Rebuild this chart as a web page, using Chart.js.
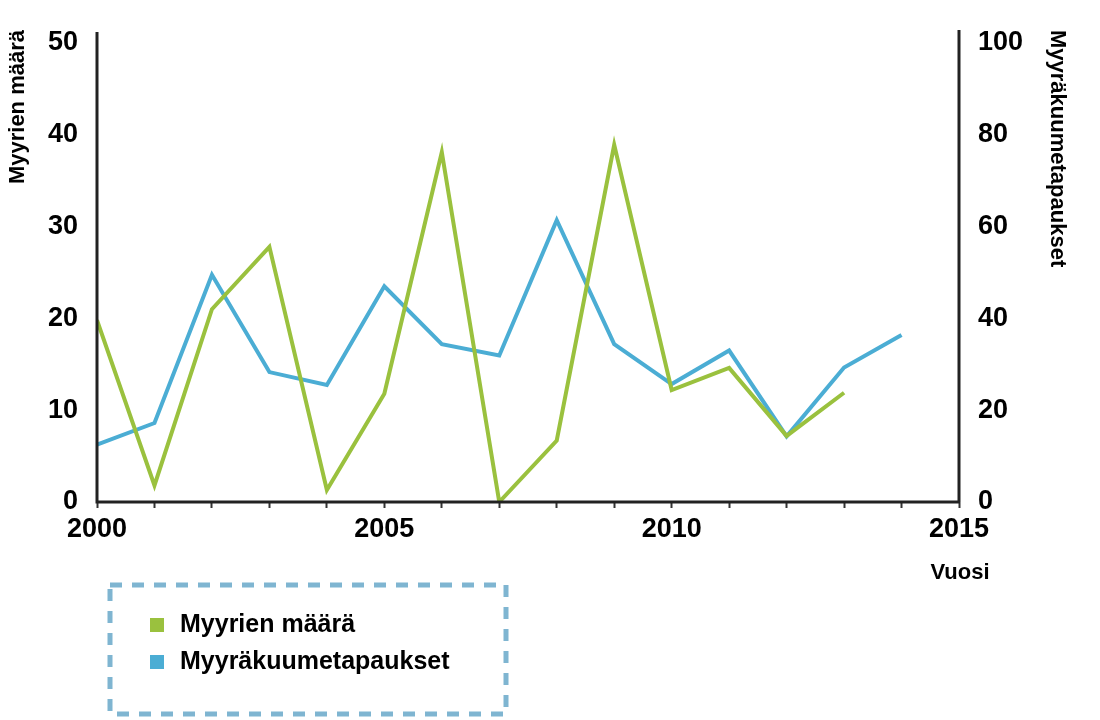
<!DOCTYPE html>
<html lang="fi">
<head>
    <meta charset="UTF-8">
    <title>Myyrät ja myyräkuume</title>
    <style>
        body { margin: 0; padding: 0; background: #fff; }
        canvas { display: block; }
    </style>
</head>
<body>
    <canvas id="myyraChart" width="1100" height="720"></canvas>

    <script src="https://cdn.jsdelivr.net/npm/chart.js@4"></script>
    <script>
        // data
        const vuodet = [2000, 2001, 2002, 2003, 2004, 2005, 2006, 2007, 2008, 2009, 2010, 2011, 2012, 2013, 2014];
        const myyrienMaara = [19.8, 1.8, 21.0, 27.8, 1.3, 11.8, 38.1, 0, 6.7, 38.9, 12.2, 14.6, 7.2, 11.9];
        const myyrakuumeTapaukset = [12.5, 17.2, 49.5, 28.3, 25.5, 47.0, 34.4, 31.9, 61.4, 34.4, 25.7, 33.0, 14.3, 29.3, 36.4];
        const xTickLabels = [2000, 2005, 2010, 2015];
        const vasenTicks = [0, 10, 20, 30, 40, 50];
        const oikeaTicks = [0, 20, 40, 60, 80, 100];

        const vihrea = '#9ac13e';
        const sininen = '#4badd4';
        const fontti = 'Arial, "Liberation Sans", sans-serif';

        const pisteet = (arvot) => arvot.map((v, i) => ({ x: vuodet[i], y: v }));

        // axis lines, axis titles and the dashed legend box
        const koristeet = {
            id: 'koristeet',
            afterDraw(chart) {
                const c = chart.ctx;
                const a = chart.chartArea;
                c.save();
                c.strokeStyle = '#222';
                c.lineWidth = 3;
                c.beginPath();
                c.moveTo(a.left, a.top - 11);
                c.lineTo(a.left, a.bottom);
                c.lineTo(a.right + 1, a.bottom);
                c.moveTo(a.right, a.top - 13);
                c.lineTo(a.right, a.bottom);
                c.stroke();

                c.fillStyle = '#000';
                c.font = 'bold 22px ' + fontti;
                c.textBaseline = 'middle';

                c.save();
                c.translate(18, 30);
                c.rotate(-Math.PI / 2);
                c.textAlign = 'right';
                c.fillText('Myyrien määrä', 0, 0);
                c.restore();

                c.save();
                c.translate(1057, 30);
                c.rotate(Math.PI / 2);
                c.textAlign = 'left';
                c.fillText('Myyräkuumetapaukset', 0, 0);
                c.restore();

                c.textAlign = 'center';
                c.fillText('Vuosi', 960, 573);

                // legend box
                c.strokeStyle = '#7fb5d1';
                c.lineWidth = 5;
                c.setLineDash([12, 10]);
                c.strokeRect(110, 585, 396, 129);
                c.setLineDash([]);

                c.font = 'bold 25px ' + fontti;
                c.textAlign = 'left';
                chart.data.datasets.forEach((ds, i) => {
                    const y = 625 + i * 37;
                    c.fillStyle = ds.borderColor;
                    c.fillRect(150, y - 7, 14, 14);
                    c.fillStyle = '#000';
                    c.fillText(ds.label, 180, y);
                });
                c.restore();
            }
        };

        const ctx = document.getElementById('myyraChart').getContext('2d');
        const myyraChart = new Chart(ctx, {
            type: 'line',
            data: {
                datasets: [
                    {
                        label: 'Myyrien määrä',
                        data: pisteet(myyrienMaara),
                        borderColor: vihrea,
                        backgroundColor: vihrea,
                        borderWidth: 4,
                        pointRadius: 0,
                        tension: 0,
                        yAxisID: 'y'
                    },
                    {
                        label: 'Myyräkuumetapaukset',
                        data: pisteet(myyrakuumeTapaukset),
                        borderColor: sininen,
                        backgroundColor: sininen,
                        borderWidth: 4,
                        pointRadius: 0,
                        tension: 0,
                        yAxisID: 'y1'
                    }
                ]
            },
            options: {
                responsive: false,
                animation: false,
                devicePixelRatio: 1,
                layout: { padding: { top: 43, left: 0, right: 0, bottom: 0 } },
                plugins: {
                    legend: { display: false },
                    tooltip: { enabled: false }
                },
                scales: {
                    x: {
                        type: 'linear',
                        min: 2000,
                        max: 2015,
                        afterFit: (s) => { s.height = 218; },
                        afterBuildTicks: (s) => {
                            s.ticks = vuodet.concat([2015]).map(v => ({ value: v }));
                        },
                        border: { display: false },
                        grid: {
                            drawOnChartArea: false,
                            drawTicks: true,
                            tickLength: 6,
                            tickWidth: 2,
                            color: '#333'
                        },
                        ticks: {
                            autoSkip: false,
                            maxRotation: 0,
                            padding: 5,
                            color: '#000',
                            font: { family: fontti, size: 27, weight: 'bold' },
                            callback: (v) => xTickLabels.includes(v) ? String(v) : ''
                        }
                    },
                    y: {
                        position: 'left',
                        min: 0,
                        max: 50,
                        afterFit: (s) => { s.width = 97; },
                        afterBuildTicks: (s) => { s.ticks = vasenTicks.map(v => ({ value: v })); },
                        border: { display: false },
                        grid: { display: false, drawTicks: false },
                        ticks: {
                            padding: 19,
                            color: '#000',
                            font: { family: fontti, size: 27, weight: 'bold' }
                        }
                    },
                    y1: {
                        position: 'right',
                        min: 0,
                        max: 100,
                        afterFit: (s) => { s.width = 141; },
                        afterBuildTicks: (s) => { s.ticks = oikeaTicks.map(v => ({ value: v })); },
                        border: { display: false },
                        grid: { display: false, drawTicks: false },
                        ticks: {
                            padding: 19,
                            color: '#000',
                            font: { family: fontti, size: 27, weight: 'bold' }
                        }
                    }
                }
            },
            plugins: [koristeet]
        });
    </script>
</body>
</html>
